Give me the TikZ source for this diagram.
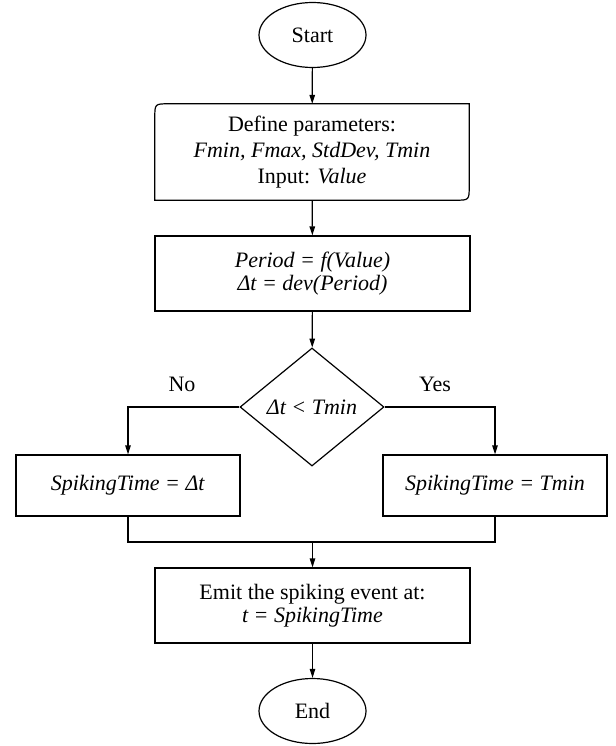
\documentclass[tikz,border=0pt]{standalone}
\usepackage{fontspec}
\setmainfont{Liberation Serif}
\usetikzlibrary{shapes.geometric,arrows.meta,calc}
\begin{document}
\begin{tikzpicture}[x=1pt,y=-1pt,
  line/.style={draw=black,line width=1.2pt},
  arr/.style={line,-{Triangle[length=9pt,width=5.5pt]}},
  txt/.style={align=center,inner sep=0pt,font=\fontsize{22}{23}\selectfont},
  boxnode/.style={txt,line,rectangle},
  term/.style={txt,line,ellipse,minimum width=107pt,minimum height=65pt},
  decide/.style={txt,line,diamond,minimum width=144pt,minimum height=118pt,aspect=1.22}]
\useasboundingbox (0,0) rectangle (615,746);

\node[term] (start) at (312.5,35) {Start};
\node[txt,minimum width=314pt,minimum height=96pt,font=\fontsize{22}{26.3}\selectfont] (def) at (312,152)
  {Define parameters:\\ \textit{Fmin, Fmax, StdDev, Tmin}\\ Input: \textit{Value}};
\draw[line] ([yshift=-14pt]def.north west) .. controls (def.north west) .. ([xshift=14pt]def.north west)
  -- (def.north east) -- ([yshift=14pt]def.south east) .. controls (def.south east) .. ([xshift=-14pt]def.south east)
  -- (def.south west) -- cycle;
\node[boxnode,minimum width=315pt,minimum height=75pt] (per) at (312.5,273.5)
  {\textit{Period = f(Value)}\\ \textit{Δt = dev(Period)}};
\node[decide] (dec) at (312,407) {\textit{Δt < Tmin}};
\node[txt] (no) at (182,384) {No};
\node[txt] (yes) at (435,384) {Yes};
\node[boxnode,minimum width=224pt,minimum height=61pt] (left) at (128,485.5) {\textit{SpikingTime = Δt}};
\node[boxnode,minimum width=224pt,minimum height=61pt] (right) at (495,485.5) {\textit{SpikingTime = Tmin}};
\coordinate (merge) at (312.5,542);
\node[boxnode,minimum width=315pt,minimum height=75pt] (emit) at (312.5,605.5)
  {Emit the spiking event at:\\ \textit{t = SpikingTime}};
\node[term] (end) at (312.5,711) {End};

\draw[arr] (start) -- (def);
\draw[arr] (def) -- (per);
\draw[arr] (per) -- (dec);
\draw[arr] (dec.west) -| (left.north);
\draw[arr] (dec.east) -| (right.north);
\draw[line] (left.south) -- (left.south |- merge) -- (right.south |- merge) -- (right.south);
\draw[arr] (merge) -- (emit);
\draw[arr] (emit) -- (end);
\end{tikzpicture}
\end{document}
